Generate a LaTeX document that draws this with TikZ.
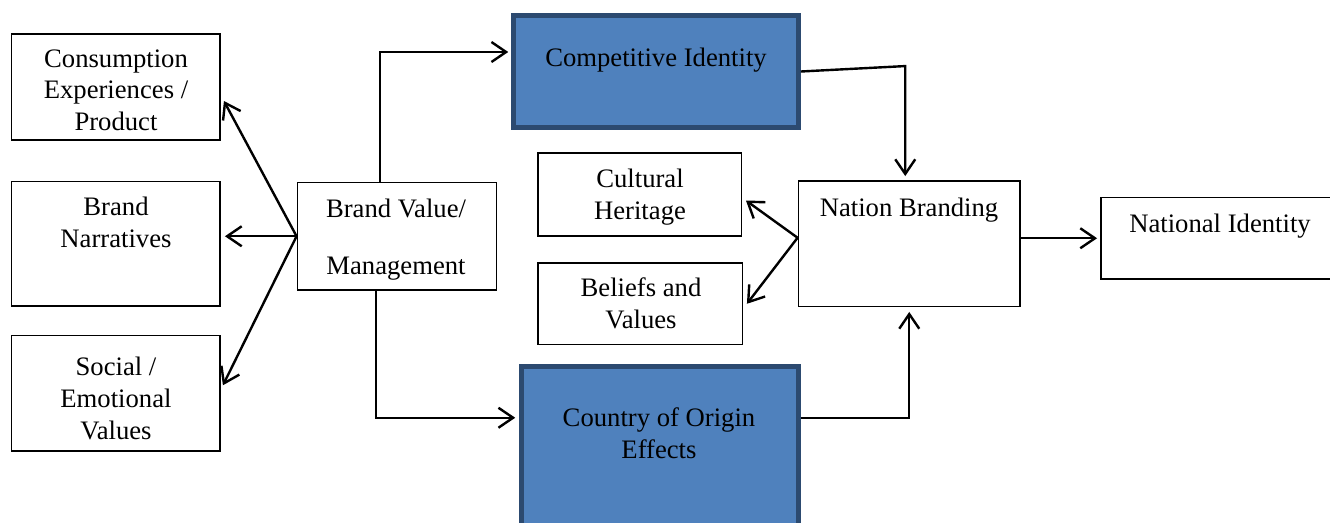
\documentclass[tikz,border=0pt]{standalone}
\usepackage{fontspec}
\setmainfont{Liberation Serif}
\usetikzlibrary{arrows.meta,fit,calc}
\definecolor{bluefill}{HTML}{4F81BD}
\definecolor{blueedge}{HTML}{2C4A70}
\begin{document}
\begin{tikzpicture}[x=0.75pt,y=-0.75pt,
  box/.style={draw=black,line width=1.4pt,inner sep=0pt,fit={#1}},
  bluebox/.style={draw=blueedge,fill=bluefill,line width=3.4pt,inner sep=0pt,fit={#1}},
  txt/.style={font=\fontsize{20}{23.7}\selectfont,align=center,inner sep=0pt,anchor=base},
  conn/.style={line width=1.8pt,-{Straight Barb[length=11pt,width=15pt,line width=1.8pt]}},
]
\useasboundingbox (0,0) rectangle (1330,522);
\clip (0,0) rectangle (1330,522);

% boxes
\node[box={(11.5,34)(220,140)}] (cons) {};
\node[box={(11.5,181.5)(220,306)}] (narr) {};
\node[box={(11.5,335.5)(220,451)}] (soc) {};
\node[box={(297.5,182.5)(496.5,290)}] (bv) {};
\node[bluebox={(513.5,15.5)(798.5,127.5)}] (ci) {};
\node[box={(538,153)(741.5,236)}] (ch) {};
\node[box={(538,263)(742.5,344.5)}] (bel) {};
\node[box={(798.5,181)(1020,306.5)}] (nb) {};
\node[box={(1101,197.5)(1345,279)}] (ni) {};
\node[bluebox={(521.5,366.5)(798.5,545)}] (coe) {};

% texts (anchor = baseline of last line)
\node[txt] (tcons) at (116,130.5) {Consumption\\Experiences /\\Product};
\node[txt] (tnarr) at (116,247.3) {Brand\\Narratives};
\node[txt] (tsoc) at (116,439) {Social /\\Emotional\\Values};
\node[txt] (tbv) at (396,274.3) {Brand Value/\\[19pt]Management};
\node[txt] (tci) at (656,66) {Competitive Identity};
\node[txt] (tch) at (640,219) {Cultural\\Heritage};
\node[txt] (tbel) at (641,328.3) {Beliefs and\\Values};
\node[txt] (tnb) at (909,216) {Nation Branding};
\node[txt] (tni) at (1220,232.7) {National Identity};
\node[txt] (tcoe) at (659,458.3) {Country of Origin\\Effects};

% connectors
\draw[conn] (bv.west) -- ($(cons.east)+(3,14)$);
\draw[conn] (bv.west) -- ($(narr.east |- bv.west)+(4,0)$);
\draw[conn] (bv.west) -- ($(soc.east)+(2,-8)$);
\draw[conn] ($(bv.north)+(-17,0)$) |- ($(ci.west)+(-3,-19.5)$);
\draw[conn] ($(bv.south)+(-21,0)$) |- ($(coe.west)+(-4,-38)$);
\draw[conn] (ci.east) -- ($(nb.north)+(-4,-114)$) -- ($(nb.north)+(-4,-4)$);
\draw[conn] ($(coe.east)+(0,-38)$) -| ($(nb.south)+(0,4.5)$);
\draw[conn] ($(nb.west)+(0,-6)$) -- ($(ch.east)+(3.5,6)$);
\draw[conn] ($(nb.west)+(0,-6)$) -- ($(bel.east)+(3.5,0)$);
\draw[conn] (nb.east |- ni.west) -- ($(ni.west)+(-3,0)$);
\end{tikzpicture}
\end{document}
